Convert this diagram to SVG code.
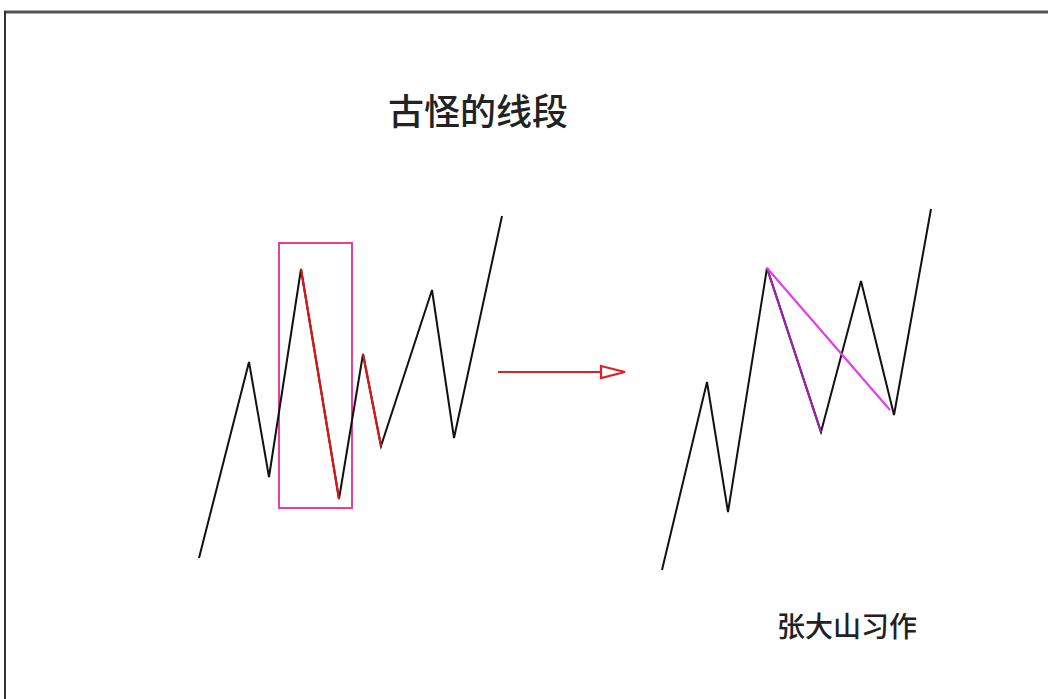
<svg xmlns="http://www.w3.org/2000/svg" width="1048" height="699" viewBox="0 0 1048 699">
<style>
.zig{fill:none;stroke:#111;stroke-width:2;stroke-linejoin:miter}
.red{fill:none;stroke:#d81818;stroke-width:2.2}
.txt{font-family:"Noto Sans CJK SC","Noto Sans",sans-serif;fill:#222}
</style>
<defs>
<marker id="openArrow" markerWidth="28" markerHeight="16" refX="26" refY="8" orient="auto" markerUnits="userSpaceOnUse">
<path d="M2,2 L26,8 L2,14 Z" fill="#fff" stroke="#e02020" stroke-width="2.2"/>
</marker>
</defs>
<rect width="1048" height="699" fill="#fff"/>
<g id="frame">
<line x1="4" y1="12" x2="1048" y2="12" stroke="#555" stroke-width="3"/>
<line x1="5" y1="11" x2="5" y2="699" stroke="#333" stroke-width="2"/>
</g>
<g id="title"><text class="txt" x="388" y="125" font-size="36" font-weight="500">古怪的线段</text></g>
<g id="left-chart">
<rect x="279" y="243" width="73" height="265" fill="none" stroke="#e8409a" stroke-width="2"/>
<polyline class="zig" points="199,558 249,362 269,477 301,269 339,499 363,354 381,446 432,290 454,438 502,216"/>
<polyline class="red" points="301,269 339,499"/>
<polyline class="red" points="363,354 381,446"/>
</g>
<g id="connectors">
<line x1="498" y1="372" x2="625" y2="372" stroke="#e02020" stroke-width="2" marker-end="url(#openArrow)"/>
</g>
<g id="right-chart">
<polyline class="zig" points="662,570 707,382 728,512 767,268 821,432 861,281 894,415 931,209"/>
<line x1="767" y1="268" x2="821" y2="432" stroke="#a020b0" stroke-width="2.2"/>
<line x1="767" y1="268" x2="890" y2="410" stroke="#e040e8" stroke-width="2.2"/>
</g>
<g id="author"><text class="txt" x="777" y="637" font-size="28" font-weight="500">张大山习作</text></g>
</svg>
